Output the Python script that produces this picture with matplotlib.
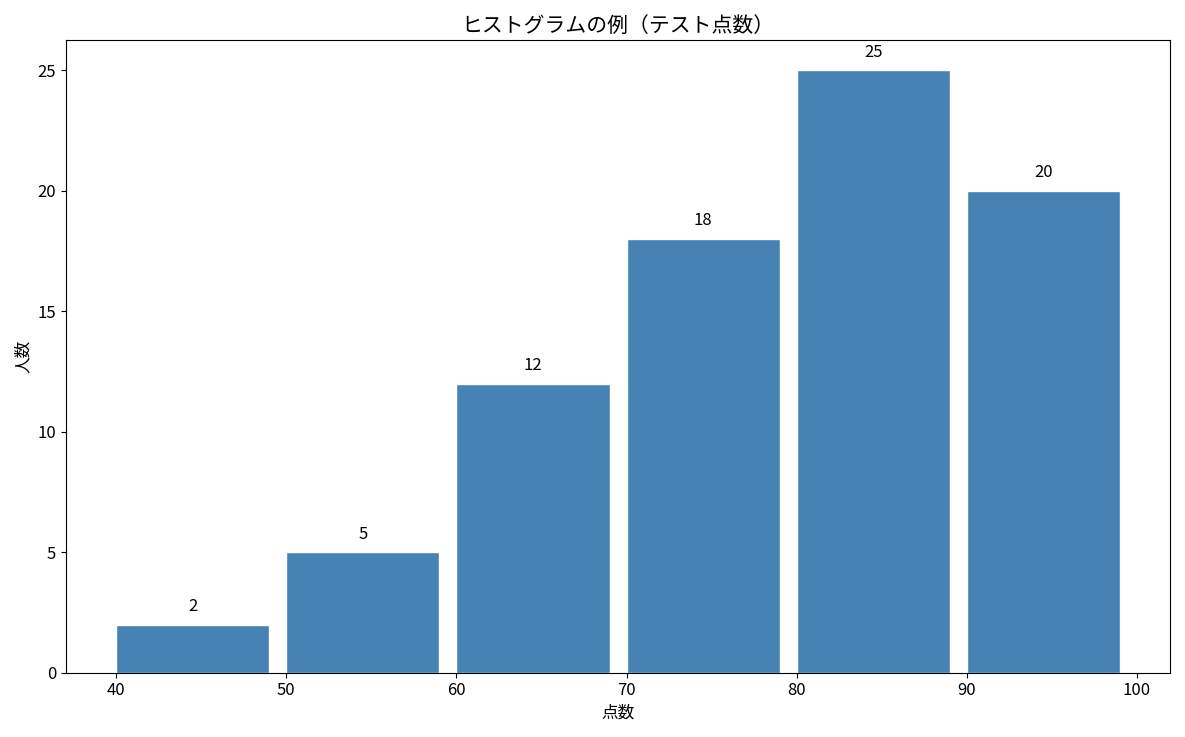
import matplotlib
matplotlib.use("Agg")
import matplotlib.pyplot as plt

plt.rcParams['font.family'] = ['Noto Sans CJK JP', 'DejaVu Sans']

# 点数の区間と人数
bins = [40, 50, 60, 70, 80, 90]
counts = [2, 5, 12, 18, 25, 20]

fig, ax = plt.subplots(figsize=(11.85, 7.37), dpi=100)
bars = ax.bar(bins, counts, width=9, align="edge", color="steelblue",
              edgecolor="white", linewidth=1)
for x, c in zip(bins, counts):
    ax.text(x + 4.5, c + 0.4, str(c), ha="center", va="bottom", fontsize=12)

ax.set_xticks([40, 50, 60, 70, 80, 90, 100])
ax.set_title("ヒストグラムの例（テスト点数）", fontsize=15)
ax.set_xlabel("点数", fontsize=12)
ax.set_ylabel("人数", fontsize=12)
ax.tick_params(labelsize=12)
plt.tight_layout()
plt.savefig("out.png")
